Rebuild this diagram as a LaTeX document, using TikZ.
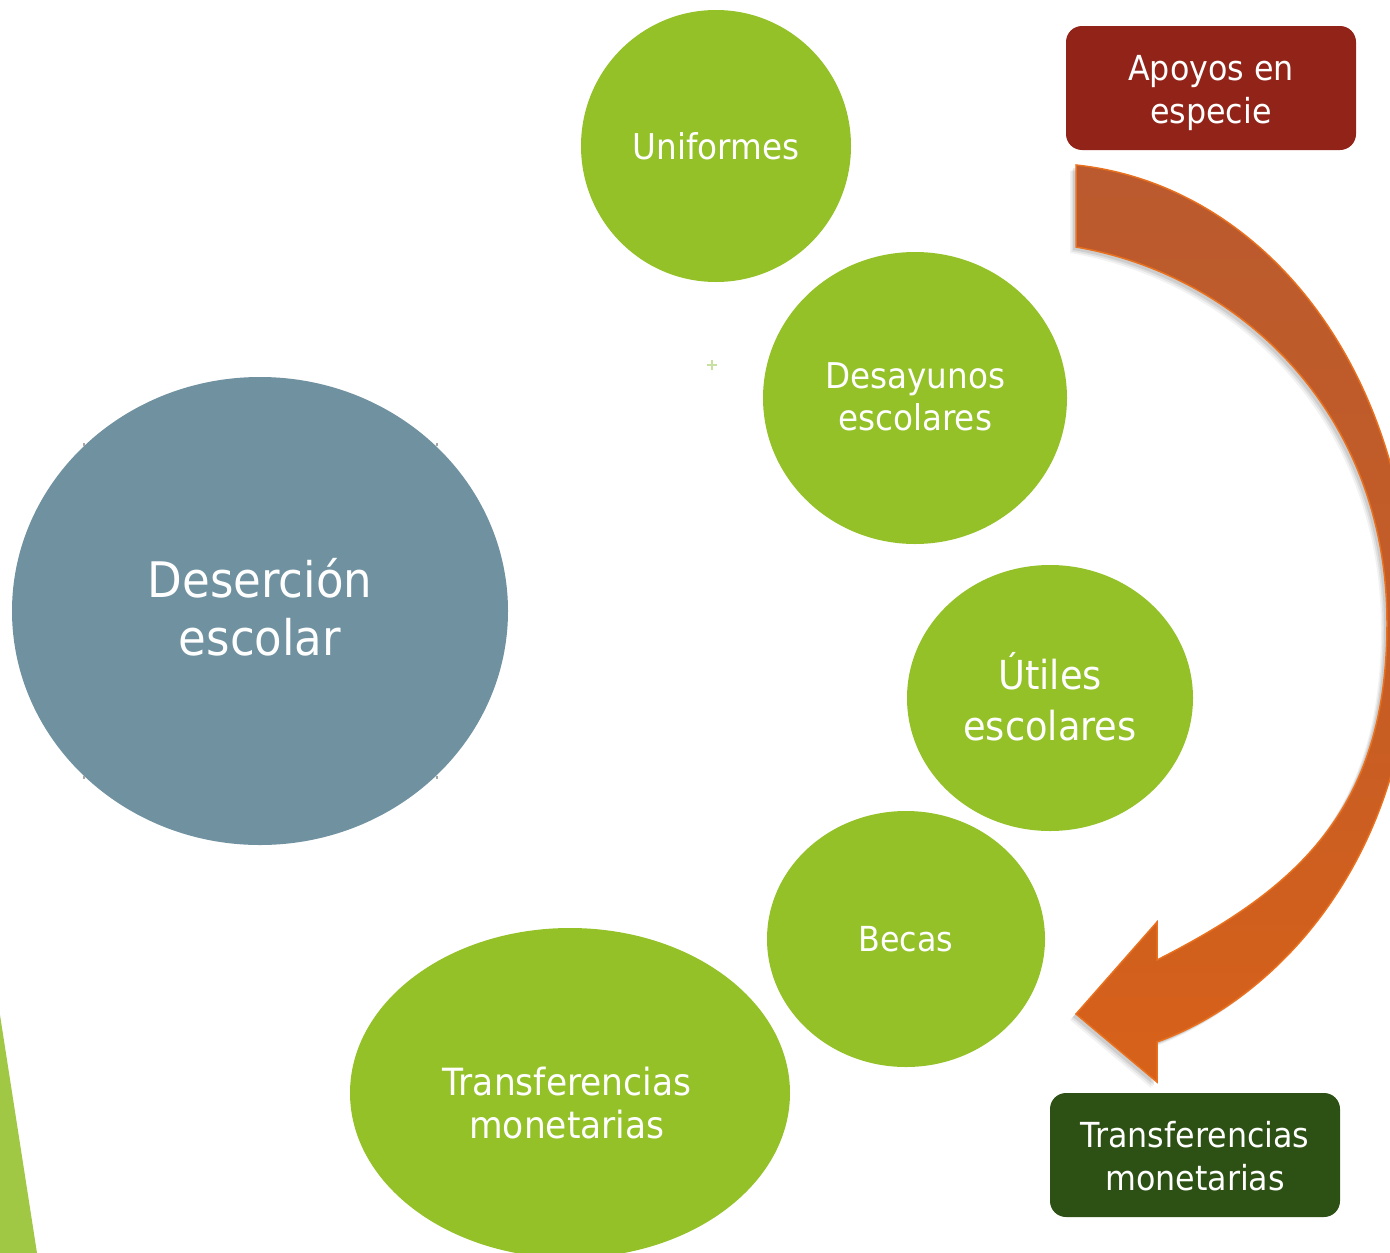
\documentclass[tikz,border=0pt]{standalone}
\usepackage{fontspec}
\setmainfont{DejaVu Sans}[FakeStretch=0.92]
\usetikzlibrary{shapes.geometric}
\definecolor{leaf}{RGB}{147,193,39}
\definecolor{slate}{RGB}{111,145,160}
\definecolor{wine}{RGB}{146,35,24}
\definecolor{forest}{RGB}{45,80,20}
\definecolor{wedge}{RGB}{160,200,68}
\definecolor{arrtop}{RGB}{186,90,46}
\definecolor{arrbot}{RGB}{215,97,25}
\definecolor{arredge}{RGB}{232,112,30}
\definecolor{plusc}{RGB}{200,225,160}
\tikzset{
  bubble/.style={ellipse, fill=leaf, draw=none, inner sep=0pt},
  bigbubble/.style={ellipse, fill=slate, draw=none, inner sep=0pt},
  txt/.style={text=white, align=center, inner sep=0pt, font=\fontsize{35.5}{42}\selectfont},
  tag/.style={rounded corners=16pt, draw=none, inner sep=0pt},
  tagtxt/.style={text=white, align=center, inner sep=0pt, font=\fontsize{34.5}{43}\selectfont},
}
\newcommand{\arrowoutline}{%
  (1076,165) .. controls (1265,185) and (1412,372) .. (1412,625)
  .. controls (1412,855) and (1279,998) .. (1157,1042)
  -- (1157,1082) -- (1076,1014) -- (1157,922) -- (1157,960)
  .. controls (1299,888) and (1387,808) .. (1387,623)
  .. controls (1387,416) and (1244,276) .. (1076,247) -- cycle}
\begin{document}
\begin{tikzpicture}[x=1pt,y=-1pt]
\useasboundingbox (0,0) rectangle (1390,1253);
\clip (0,0) rectangle (1390,1253);
% left wedge
\fill[wedge] (0,1015) -- (37,1253) -- (0,1253) -- cycle;
% main ellipse
\node[bigbubble, minimum width=496pt, minimum height=468pt] (des) at (260,611) {};
\foreach \px/\py in {84/444,437/444,84/777,437/777}
  \fill[gray!70] (\px-1,\py-1.5) rectangle (\px+1,\py+1.5);
\node[txt, font=\fontsize{49}{58}\selectfont] (destxt) at (260,607) {Deserción\\escolar};
% green bubbles
\node[bubble, minimum width=270pt, minimum height=272pt] (uni) at (716,146) {};
\node[txt] (unitxt) at (716,146) {Uniformes};
\node[bubble, minimum width=304pt, minimum height=292pt] (desa) at (915,398) {};
\node[txt] (desatxt) at (915,397) {Desayunos\\escolares};
\node[bubble, minimum width=286pt, minimum height=266pt] (uti) at (1050,698) {};
\node[txt, font=\fontsize{40}{51}\selectfont] (utitxt) at (1050,697) {Útiles\\escolares};
\node[bubble, minimum width=278pt, minimum height=256pt] (bec) at (906,939) {};
\node[txt, font=\fontsize{34.5}{42}\selectfont] (bectxt) at (906,939) {Becas};
\node[bubble, minimum width=440pt, minimum height=330pt] (tra) at (570,1093) {};
\node[txt, font=\fontsize{37.5}{43}\selectfont] (tratxt) at (567,1103) {Transferencias\\monetarias};
% plus
\fill[plusc] (707,364) rectangle (717,366);
\fill[plusc] (711,360) rectangle (713,370);
% tags
\node[tag, fill=wine, minimum width=290pt, minimum height=124pt] (apo) at (1211,88) {};
\node[tagtxt] (apotxt) at (1211,93) {Apoyos en\\especie};
\node[tag, fill=forest, minimum width=290pt, minimum height=124pt] (mon) at (1195,1155) {};
\node[tagtxt] (montxt) at (1195,1156) {Transferencias\\monetarias};
% curved arrow: shadow
\foreach \s/\o in {6/0.05,4.5/0.07,3/0.09}
  \fill[black, opacity=\o, xshift=-\s pt, yshift=-\s pt] \arrowoutline;
\path[draw=arredge, line width=1.5pt, top color=arrtop, bottom color=arrbot, middle color=arrtop!65!arrbot]
  \arrowoutline;
\coordinate (tip) at (1076,1014);
\end{tikzpicture}
\end{document}
